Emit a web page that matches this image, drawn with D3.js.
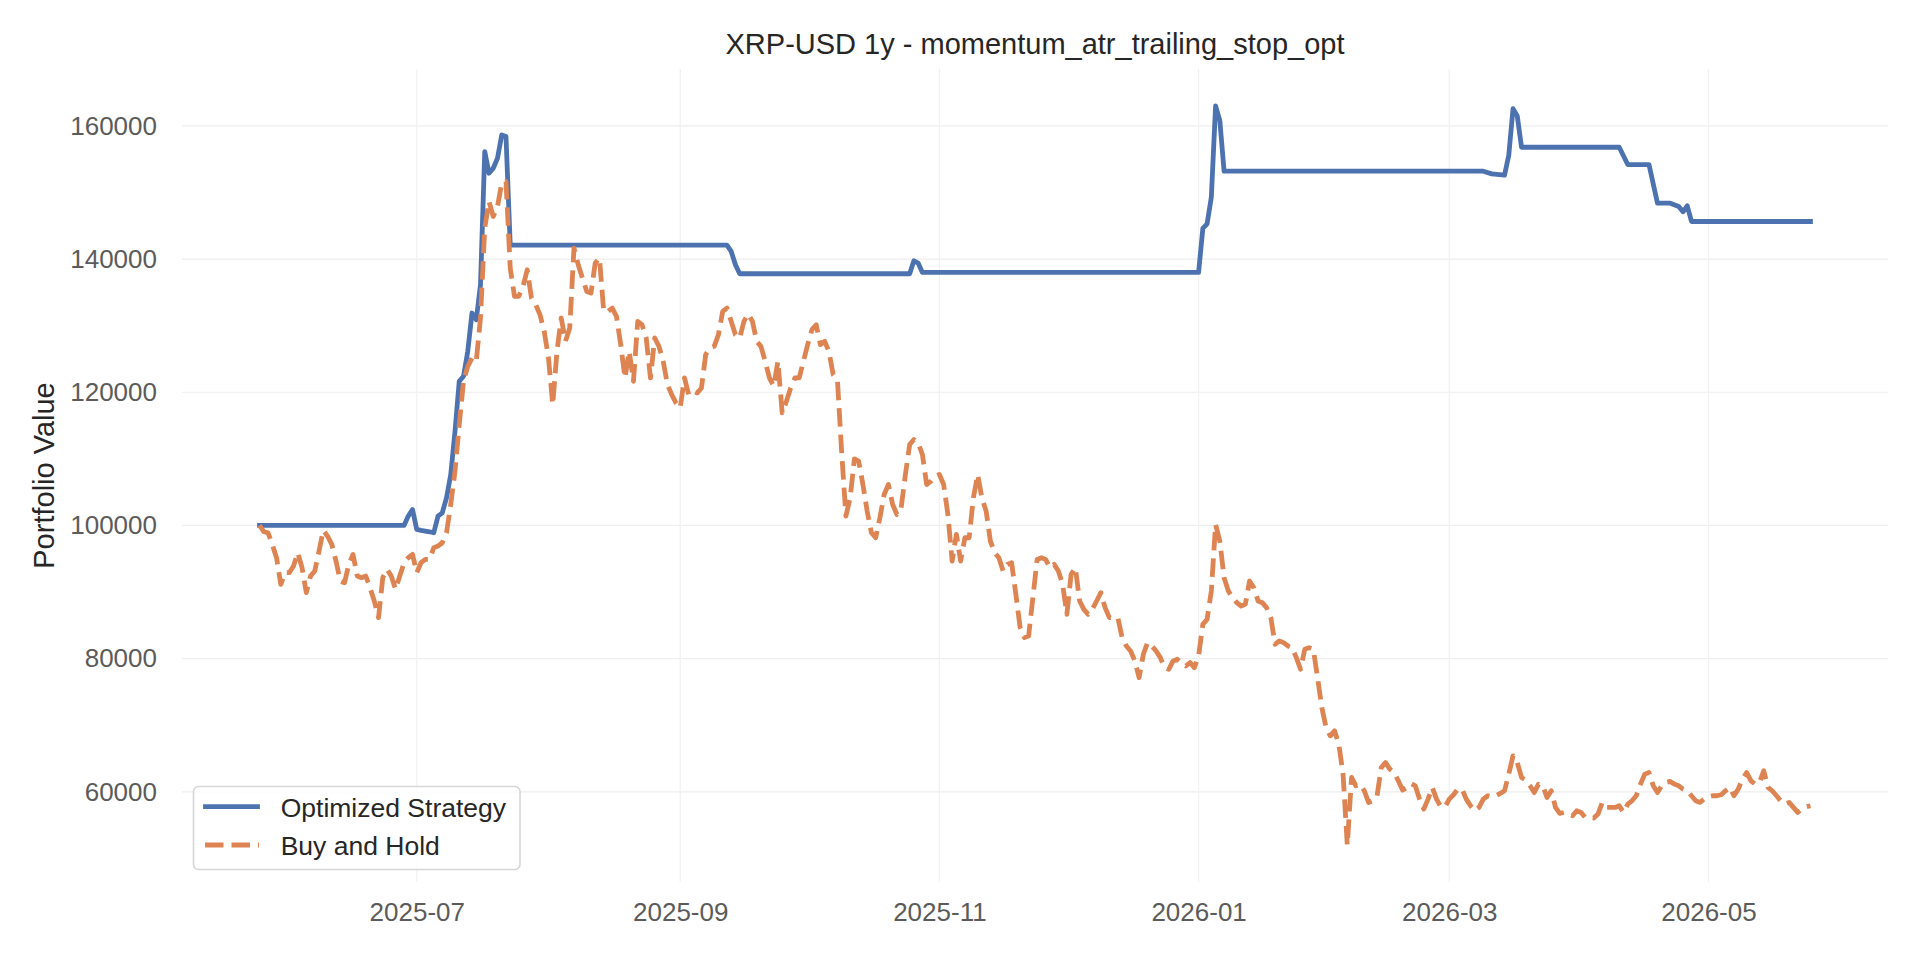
<!DOCTYPE html>
<html>
<head>
<meta charset="utf-8">
<script src="https://cdn.jsdelivr.net/npm/d3@7"></script>
<style>
  html, body { margin: 0; padding: 0; background: #fff; }
  text { font-family: "Liberation Sans", Arial, sans-serif; }
</style>
</head>
<body>
<div id="chart-area"></div>
<script>
// chart text
var chartTitle = "XRP-USD 1y - momentum_atr_trailing_stop_opt";
var yLabel = "Portfolio Value";
var seriesNames = ["Optimized Strategy", "Buy and Hold"];
var yTicks = [60000, 80000, 100000, 120000, 140000, 160000];

// strategy equity curve (only the points where it changes)
var strategyDates = [
  "2025-05-25", "2025-06-28", "2025-06-29", "2025-06-30", "2025-07-01", "2025-07-02",
  "2025-07-03", "2025-07-04", "2025-07-05", "2025-07-06", "2025-07-07", "2025-07-08",
  "2025-07-09", "2025-07-10", "2025-07-11", "2025-07-12", "2025-07-13", "2025-07-14",
  "2025-07-15", "2025-07-16", "2025-07-17", "2025-07-18", "2025-07-19", "2025-07-20",
  "2025-07-21", "2025-07-22", "2025-07-23", "2025-09-12", "2025-09-13", "2025-09-14",
  "2025-09-15", "2025-10-25", "2025-10-26", "2025-10-27", "2025-10-28", "2026-01-01",
  "2026-01-02", "2026-01-03", "2026-01-04", "2026-01-05", "2026-01-06", "2026-01-07",
  "2026-03-09", "2026-03-11", "2026-03-14", "2026-03-15", "2026-03-16", "2026-03-17",
  "2026-03-18", "2026-04-10", "2026-04-12", "2026-04-17", "2026-04-19", "2026-04-22",
  "2026-04-24", "2026-04-25", "2026-04-26", "2026-04-27", "2026-05-25"
];
var strategyValues = [
  100000, 100000, 101400, 102400, 99400, 99250,
  99150, 99050, 98900, 101400, 101900, 104150,
  107650, 114150, 121650, 122400, 126150, 131900,
  130900, 136150, 156150, 152900, 153650, 155150,
  158650, 158400, 142100, 142100, 141150, 139150,
  137800, 137800, 139750, 139400, 138000, 138000,
  144600, 145300, 149300, 163000, 160800, 153200,
  153200, 152800, 152600, 155600, 162600, 161500,
  156800, 156800, 154200, 154200, 148400, 148400,
  147900, 147100, 148000, 145650, 145650
];

// buy and hold, one value per day from holdStart
var holdStart = "2025-05-25";
var holdValues = [
  // May 25 - Jun 30
  100000, 99050, 98900, 97150, 95150, 91150, 92900, 92900, 93900, 95900,
  93650, 89900, 92400, 93150, 96150, 99250, 98400, 97150, 94650, 91650,
  91400, 94150, 95650, 92400, 92150, 92400, 90650, 88650, 86150, 92150,
  93400, 92400, 90400, 92400, 94400, 95150, 95650,
  // Jul 1 - Aug 21
  92900, 94400, 94900, 94900, 96650, 96900, 97400, 98900, 103150, 108150,
  115150, 121650, 123900, 125150, 124650, 131150, 144650, 148650, 146400, 147900,
  151400, 151650, 138650, 134400, 134400, 135900, 138400, 134150, 133150, 131650,
  129150, 125150, 118150, 126150, 131150, 127650, 129650, 141650, 139150, 137150,
  135150, 134900, 139400, 140150, 132150, 132150, 132650, 131400, 127150, 122150,
  126150, 121650,
  // Aug 22 - Oct 8
  130650, 130150, 128150, 122150, 128150, 126900, 124650, 121150,
  119650, 118400, 117650, 122150, 119650, 120150, 119900, 120650, 125650, 126650,
  126900, 128650, 132150, 132650, 130650, 128650, 128150, 130650, 131750, 130650,
  127650, 126900, 124650, 122150, 120900, 124650, 116900, 118650, 120650, 122150,
  122150, 124650, 127150, 129400, 130150, 127150, 127650, 126150, 122650, 121900,
  // Oct 9 - Nov 15
  111000, 101400, 104150, 110000, 109650, 106150, 102150, 98900, 98150, 101150,
  104650, 106150, 103150, 101650, 102650, 107650, 112150, 112900, 112400, 110650,
  106150, 106650, 107400, 107650, 106150, 101650, 94650, 98650, 94650, 98150,
  98150, 104150, 107650, 104150, 102150, 97650, 95900, 95150,
  // Nov 16 - Feb 17
  93150, 94150,
  94400, 89650, 84650, 83150, 83400, 89150, 94900, 95150, 94900, 93650,
  94150, 93150, 91150, 86650, 92650, 93650, 88650, 87400, 86650, 87400,
  88650, 89900, 87650, 86150, 86150, 86150, 83150, 81900, 81150, 79650,
  77150, 80650, 82400, 81900, 81150, 80150, 78650, 78400, 79650, 79900,
  79400, 78900, 79400, 78650, 80400, 85150, 85900, 90150, 100150, 97650,
  92150, 90150, 89150, 88400, 87900, 88150, 91650, 90650, 88650, 88400,
  87650, 86150, 82150, 82650, 82400, 81900, 81650, 80150, 78400, 81400,
  81650, 81400, 77150, 72650, 69650, 68400, 69150, 67150, 62650, 52000,
  62150, 60900, 61150, 60150, 58400, 58650, 59400, 63650, 64400, 63400,
  62900, 61650,
  // Feb 18 - May 25
  60250, 60650, 61250, 60900, 58900, 57400, 58900, 60650,
  58900, 57750, 57750, 58900, 59550, 60400, 60400, 58900, 57900, 57150,
  57650, 58900, 59400, 59250, 59400, 59750, 60150, 62650, 65400, 64400,
  62150, 61750, 60900, 59900, 61150, 60900, 59150, 60150, 57650, 56750,
  56900, 56650, 56400, 57150, 56900, 56150, 56150, 56050, 56650, 58400,
  57650, 57650, 57650, 57900, 56900, 58150, 58650, 59400, 61150, 62650,
  62900, 60900, 59900, 60900, 61400, 61550, 61150, 60900, 60400, 60150,
  59400, 58650, 58400, 58900, 59250, 59400, 59400, 59550, 60150, 60650,
  59400, 60400, 61900, 62900, 61650, 61150, 61400, 63150, 60650, 60150,
  59400, 58650, 58150, 58400, 57650, 56900, 57400, 57750, 57900
];

var colors = ["#4c72b0", "#dd8452"];

var width = 1920, height = 960;
var margin = {top: 69, right: 32, bottom: 78, left: 182};

var parseDate = d3.timeParse("%Y-%m-%d");
var strategy = strategyDates.map((d, i) => ({date: parseDate(d), value: strategyValues[i]}));
var t0 = parseDate(holdStart);
var hold = holdValues.map((v, i) => ({date: d3.timeDay.offset(t0, i), value: v}));

var svg = d3.select("#chart-area").append("svg")
    .attr("width", width)
    .attr("height", height);

// matplotlib style 5% padding around the data
var xExt = d3.extent(strategy.concat(hold), d => d.date);
var xPad = (xExt[1] - xExt[0]) * 0.05;
var x = d3.scaleTime()
    .domain([new Date(+xExt[0] - xPad), new Date(+xExt[1] + xPad)])
    .range([margin.left, width - margin.right]);

var yExt = d3.extent(strategy.concat(hold), d => d.value);
var yPad = (yExt[1] - yExt[0]) * 0.05;
var y = d3.scaleLinear()
    .domain([yExt[0] - yPad, yExt[1] + yPad])
    .range([height - margin.bottom, margin.top]);

var xTicks = x.ticks(d3.timeMonth.every(2));

// grid
var grid = svg.append("g").attr("class", "grid");
grid.selectAll(".gy").data(yTicks).enter()
    .append("line")
        .attr("x1", margin.left)
        .attr("x2", width - margin.right)
        .attr("y1", d => y(d))
        .attr("y2", d => y(d))
        .attr("stroke", "#eeeeee")
        .attr("stroke-width", 1.2);
grid.selectAll(".gx").data(xTicks).enter()
    .append("line")
        .attr("x1", d => x(d))
        .attr("x2", d => x(d))
        .attr("y1", margin.top)
        .attr("y2", height - margin.bottom)
        .attr("stroke", "#f1f1f1")
        .attr("stroke-width", 1.2);

// axes, labels only
var bottomAxis = d3.axisBottom(x)
    .tickValues(xTicks)
    .tickSize(0)
    .tickPadding(21)
    .tickFormat(d3.timeFormat("%Y-%m"));
svg.append("g")
    .attr("transform", "translate(0," + (height - margin.bottom) + ")")
    .call(bottomAxis)
    .call(g => g.select(".domain").remove())
    .selectAll("text")
        .attr("font-size", "26px")
        .attr("font-family", "Liberation Sans, Arial, sans-serif")
        .attr("fill", "#5b5b5b");

var leftAxis = d3.axisLeft(y)
    .tickValues(yTicks)
    .tickSize(0)
    .tickPadding(25)
    .tickFormat(d3.format("d"));
svg.append("g")
    .attr("transform", "translate(" + margin.left + ",0)")
    .call(leftAxis)
    .call(g => g.select(".domain").remove())
    .selectAll("text")
        .attr("font-size", "26px")
        .attr("font-family", "Liberation Sans, Arial, sans-serif")
        .attr("fill", "#5b5b5b");

// lines
var line = d3.line()
    .x(d => x(d.date))
    .y(d => y(d.value));

svg.append("path")
    .datum(strategy)
    .attr("fill", "none")
    .attr("stroke", colors[0])
    .attr("stroke-width", 4.8)
    .attr("stroke-linejoin", "round")
    .attr("stroke-linecap", "square")
    .attr("d", line);

svg.append("path")
    .datum(hold)
    .attr("fill", "none")
    .attr("stroke", colors[1])
    .attr("stroke-width", 4.8)
    .attr("stroke-linejoin", "round")
    .attr("stroke-dasharray", "18.5,8")
    .attr("d", line);

// title and y label
svg.append("text")
    .attr("x", (margin.left + width - margin.right) / 2)
    .attr("y", 53.5)
    .attr("text-anchor", "middle")
    .attr("font-size", "29px")
    .attr("fill", "#262626")
    .text(chartTitle);

svg.append("text")
    .attr("transform", "translate(53.5," + ((margin.top + height - margin.bottom) / 2) + ") rotate(-90)")
    .attr("text-anchor", "middle")
    .attr("font-size", "29px")
    .attr("fill", "#262626")
    .text(yLabel);

// legend, lower left
var legend = svg.append("g");
legend.append("rect")
    .attr("x", 193.5)
    .attr("y", 786.5)
    .attr("width", 326.5)
    .attr("height", 83)
    .attr("rx", 5)
    .attr("fill", "#fff")
    .attr("fill-opacity", 0.8)
    .attr("stroke", "#d6d6d6")
    .attr("stroke-width", 1.6);

var rows = legend.selectAll(".row").data(seriesNames).enter()
    .append("g")
        .attr("transform", (d, i) => "translate(0," + (806.7 + i * 38.3) + ")");
rows.append("line")
    .attr("x1", (d, i) => i == 0 ? 205.5 : 205)
    .attr("x2", (d, i) => i == 0 ? 257.5 : 259)
    .attr("stroke", (d, i) => colors[i])
    .attr("stroke-width", 4.8)
    .attr("stroke-linecap", (d, i) => i == 0 ? "square" : "butt")
    .attr("stroke-dasharray", (d, i) => i == 0 ? null : "18.5,8");
rows.append("text")
    .attr("x", 280.7)
    .attr("y", 10)
    .attr("font-size", "26.5px")
    .attr("fill", "#262626")
    .text(d => d);
</script>
</body>
</html>
